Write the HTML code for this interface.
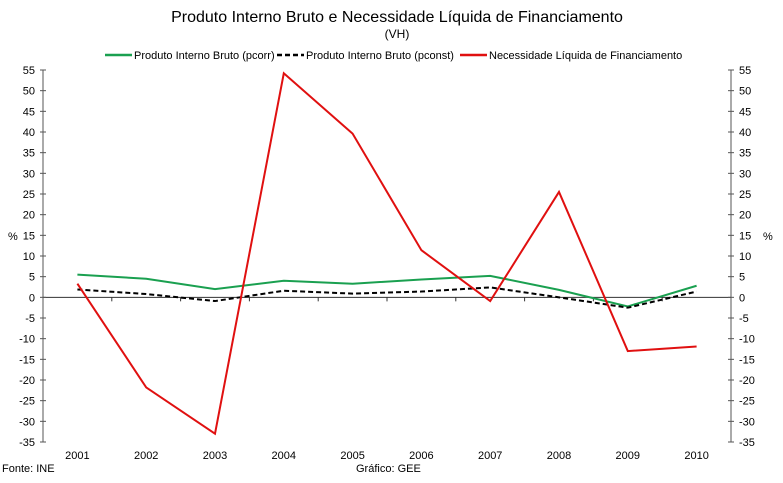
<!DOCTYPE html>
<html><head><meta charset="utf-8"><style>
body{margin:0;background:#fff;font-family:"Liberation Sans",Arial,sans-serif;}
svg text{font-family:"Liberation Sans",Arial,sans-serif;font-size:11px;fill:#000;}
</style></head><body>
<svg id="chart" width="783" height="478" xmlns="http://www.w3.org/2000/svg">
<text x="397" y="22" text-anchor="middle" style="font-size:16px">Produto Interno Bruto e Necessidade Líquida de Financiamento</text>
<text x="397" y="38" text-anchor="middle" style="font-size:12px">(VH)</text>
<g>
<line x1="105" y1="55" x2="132" y2="55" stroke="#1aa050" stroke-width="2.5"/>
<text x="134" y="59">Produto Interno Bruto (pcorr)</text>
<line x1="277" y1="55" x2="304" y2="55" stroke="#000" stroke-width="2.5" stroke-dasharray="5,3"/>
<text x="306" y="59">Produto Interno Bruto (pconst)</text>
<line x1="460" y1="55" x2="487" y2="55" stroke="#e01010" stroke-width="2.5"/>
<text x="489" y="59">Necessidade Líquida de Financiamento</text>
</g>
<g id="axes"></g>
<g id="series"></g>
<text x="8" y="240">%</text>
<text x="763" y="240">%</text>
<text x="2" y="472">Fonte: INE</text>
<text x="356" y="472">Gráfico: GEE</text>
</svg>
<script>
const categories=["2001","2002","2003","2004","2005","2006","2007","2008","2009","2010"];
const pcorr=[5.5,4.5,2.0,4.0,3.3,4.3,5.2,1.8,-2.2,2.8];
const pconst=[1.9,0.8,-0.9,1.6,0.9,1.4,2.4,0.0,-2.5,1.4];
const nlf=[3.3,-21.8,-33.0,54.2,39.6,11.4,-0.9,25.5,-13.0,-11.9];
const yTicks=[55,50,45,40,35,30,25,20,15,10,5,0,-5,-10,-15,-20,-25,-30,-35];
const NS="http://www.w3.org/2000/svg";
const L=43,R=731,T=70,B=442,yMin=-35,yMax=55;
const step=(R-L)/categories.length;
function x(i){return L+step*(i+0.5);}
function y(v){return B-(v-yMin)/(yMax-yMin)*(B-T);}
function mk(tag,attrs,parent){const e=document.createElementNS(NS,tag);for(const k in attrs)e.setAttribute(k,attrs[k]);parent.appendChild(e);return e;}
const ax=document.getElementById('axes');
let e=mk('line',{x1:L,y1:T,x2:L,y2:B,stroke:'#555'},ax);


e=mk('line',{x1:R,y1:T,x2:R,y2:B,stroke:'#555'},ax);


e=mk('line',{x1:L,y1:y(0),x2:R,y2:y(0),stroke:'#333'},ax);


yTicks.forEach(v=>{
  mk('line',{x1:L-3,y1:y(v),x2:L+3,y2:y(v),stroke:'#555'},ax);
  mk('line',{x1:R-3,y1:y(v),x2:R+3,y2:y(v),stroke:'#555'},ax);
  let t=mk('text',{x:L-8,y:y(v)+4,'text-anchor':'end'},ax);t.textContent=v;
  
  
  t=mk('text',{x:R+8,y:y(v)+4},ax);t.textContent=v;
  
  
});
categories.forEach((c,i)=>{
  if(i>0)mk('line',{x1:L+step*i,y1:y(0),x2:L+step*i,y2:y(0)+4,stroke:'#333'},ax);
  const t=mk('text',{x:x(i),y:459,'text-anchor':'middle'},ax);t.textContent=c;
  
  
});
const sg=document.getElementById('series');
function line(data,color,dash,name){
  const p=mk('polyline',{points:data.map((v,i)=>x(i)+','+y(v)).join(' '),fill:'none',stroke:color,'stroke-width':2},sg);
  if(dash)p.setAttribute('stroke-dasharray',dash);
  
  
}
line(pcorr,'#1aa050',null,'series-pib-pcorr');
line(pconst,'#000','5,3','series-pib-pconst');
line(nlf,'#e01010',null,'series-nlf');
</script>
</body></html>
